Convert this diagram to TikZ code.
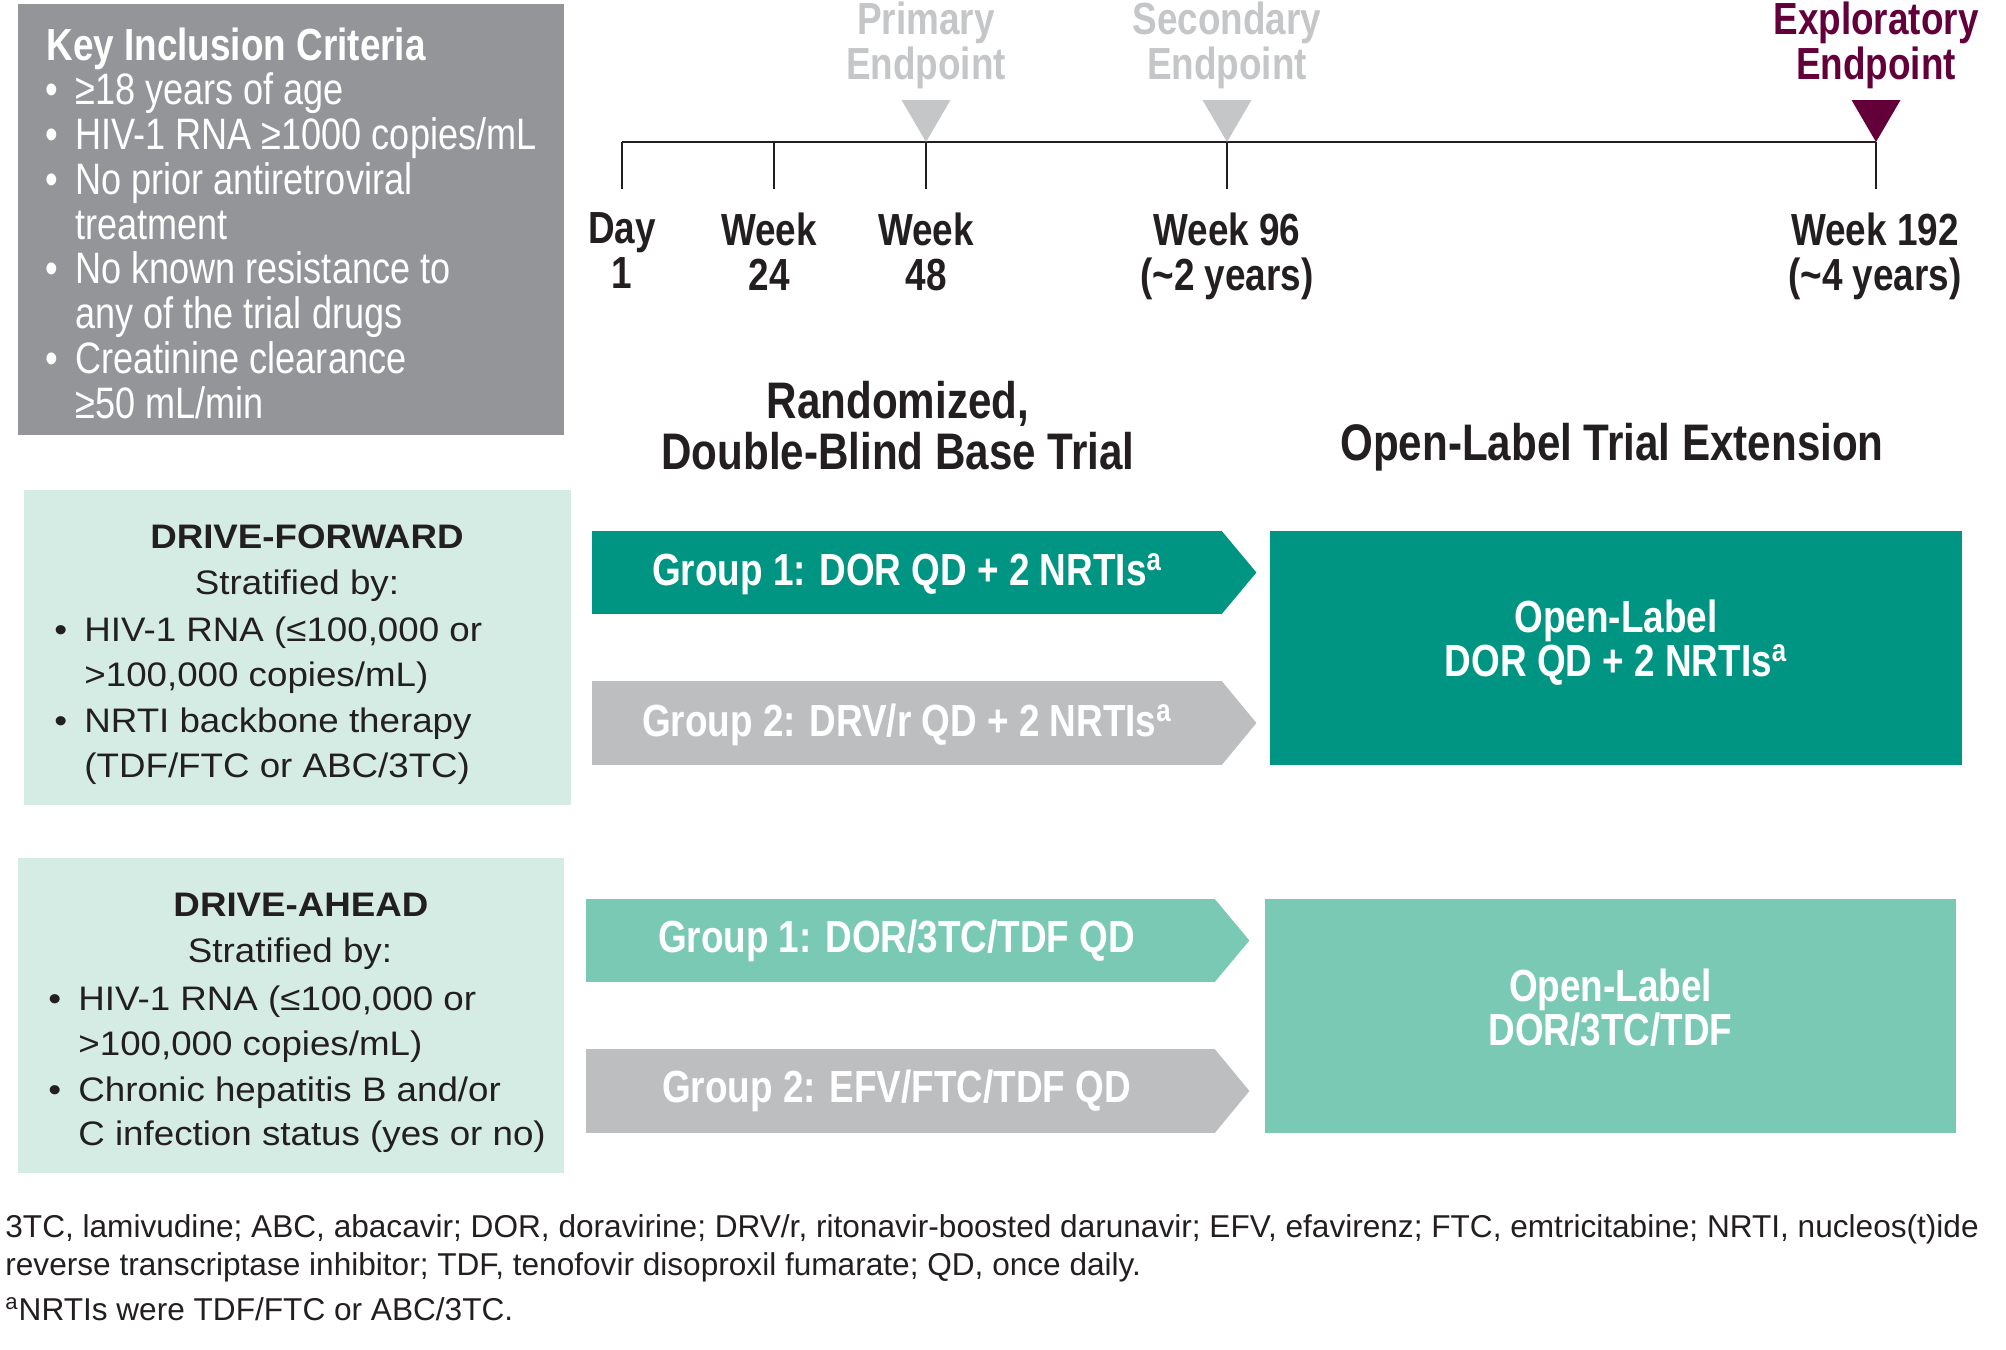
\documentclass[tikz,border=0pt]{standalone}
\usepackage{fontspec}
\setmainfont{Liberation Sans}
\newfontfamily\narrowsans{Liberation Sans}[FakeStretch=0.82]
\newfontfamily\widesans{Liberation Sans}[FakeStretch=1.08]
\usetikzlibrary{fit,positioning}

\definecolor{ink}{RGB}{35,31,32}
\definecolor{keygray}{RGB}{147,149,152}
\definecolor{paleteal}{RGB}{213,236,228}
\definecolor{darkteal}{RGB}{0,148,130}
\definecolor{lightteal}{RGB}{122,201,180}
\definecolor{armgray}{RGB}{188,190,192}
\definecolor{endgray}{RGB}{196,198,200}
\definecolor{plum}{RGB}{99,0,58}

\begin{document}
\begin{tikzpicture}[x=0.5pt,y=-0.5pt,
  every node/.style={inner sep=0pt,text=ink},
  panel/.style={fill=#1,inner sep=0pt},
  heading/.style={font={\narrowsans\bfseries\fontsize{25.7pt}{25.5pt}\selectfont},align=center},
  tick label/.style={font={\narrowsans\bfseries\fontsize{22.5pt}{22.5pt}\selectfont},align=center,anchor=north},
  bar label/.style={text=white,align=center,
    font={\narrowsans\bfseries\fontsize{22.5pt}{22pt}\selectfont}},
  keyline/.style={font={\narrowsans\fontsize{22pt}{22pt}\selectfont},text=white,anchor=base west},
  critline/.style={font={\widesans\fontsize{17pt}{23pt}\selectfont},anchor=base west},
  foot/.style={font={\fontsize{15.8pt}{19pt}\selectfont},anchor=base west},
  axis/.style={draw=ink,line width=1.35pt}]
\useasboundingbox (0,0) rectangle (2006,1349);

% key inclusion criteria
\node (keybox) [panel=keygray,fit={(18,4) (564,435)}] {};
\node (keytitle) [keyline,font={\narrowsans\bfseries\fontsize{22.5pt}{22pt}\selectfont}] at (46,60) {Key Inclusion Criteria};
\foreach \y [count=\i] in {104,149,194,283,373}
  \node (keydot\i) [keyline] at (45,\y) {\textbullet};
\foreach \y/\txt [count=\i] in {104/{≥18 years of age},149/{HIV-1 RNA ≥1000 copies/mL},
    194/{No prior antiretroviral},239/{treatment},283/{No known resistance to},
    328/{any of the trial drugs},373/{Creatinine clearance},418/{≥50 mL/min}}
  \node (key\i) [keyline] at (75,\y) {\txt};

% timeline with endpoints
\foreach \n/\x in {d1/622,w24/774,w48/926,w96/1227,w192/1876}
  \coordinate (\n) at (\x,142);
\draw[axis] (d1) -- (w192);
\foreach \n in {d1,w24,w48,w96,w192}
  \draw[axis] (\n) -- ++(0,47);
\foreach \n/\c in {w48/endgray,w96/endgray,w192/plum}
  \fill[\c] (\n) -- ++(-24.5,-42) -- ++(49,0) -- cycle;
\node (primary) [tick label,text=endgray] at (926,1) {Primary\\Endpoint};
\node (secondary) [tick label,text=endgray] at (1227,1) {Secondary\\Endpoint};
\node (exploratory) [tick label,text=plum] at (1876,1) {Exploratory\\Endpoint};

\node (lbd1) [tick label] at (622,212) {Day\\1};
\node (lbw24) [tick label] at (769,212) {Week\\24};
\node (lbw48) [tick label] at (926,212) {Week\\48};
\node (lbw96) [tick label] at (1227,212) {Week 96\\(\textasciitilde2 years)};
\node (lbw192) [tick label] at (1875,212) {Week 192\\(\textasciitilde4 years)};

% DRIVE-FORWARD
\node (fwdbox) [panel=paleteal,fit={(24,490) (571,805)}] {};
\node (fwdname) [critline,anchor=base,font={\widesans\bfseries\fontsize{17pt}{23pt}\selectfont}] at (307,548) {DRIVE-FORWARD};
\node (fwdstrat) [critline,anchor=base] at (297,594) {Stratified by:};
\foreach \y [count=\i] in {641,732}
  \node (fwddot\i) [critline] at (54,\y) {\textbullet};
\foreach \y/\txt [count=\i] in {641/{HIV-1 RNA (≤100,000 or},686/{>100,000 copies/mL)},
    732/{NRTI backbone therapy},777/{(TDF/FTC or ABC/3TC)}}
  \node (fwd\i) [critline] at (84,\y) {\txt};

\node (fwdA) [panel=darkteal,fit={(592,531) (1222,614)}] {};
\node (fwdB) [panel=armgray,fit={(592,681) (1222,765)}] {};
\node (olfwd) [panel=darkteal,fit={(1270,531) (1962,765)}] {};

% DRIVE-AHEAD
\node (aheadbox) [panel=paleteal,fit={(18,858) (564,1173)}] {};
\node (aheadname) [critline,anchor=base,font={\widesans\bfseries\fontsize{17pt}{23pt}\selectfont}] at (301,916) {DRIVE-AHEAD};
\node (aheadstrat) [critline,anchor=base] at (290,962) {Stratified by:};
\foreach \y [count=\i] in {1010,1101}
  \node (aheaddot\i) [critline] at (48,\y) {\textbullet};
\foreach \y/\txt [count=\i] in {1010/{HIV-1 RNA (≤100,000 or},1055/{>100,000 copies/mL)},
    1101/{Chronic hepatitis B and/or},1145/{C infection status (yes or no)}}
  \node (ahead\i) [critline] at (78,\y) {\txt};

\node (aheadA) [panel=lightteal,fit={(586,899) (1215,982)}] {};
\node (aheadB) [panel=armgray,fit={(586,1049) (1215,1133)}] {};
\node (olahead) [panel=lightteal,fit={(1265,899) (1956,1133)}] {};

% pointed ends of the group bars
\foreach \b/\c in {fwdA/darkteal,fwdB/armgray,aheadA/lightteal,aheadB/armgray}
  \fill[\c] ([xshift=-0.5pt]\b.north east) -- ([xshift=17pt]\b.east)
    -- ([xshift=-0.5pt]\b.south east) -- cycle;

% texts on the bars and boxes
\node (fwdAtxt) [bar label] at ([yshift=-1pt]fwdA.center) {Group 1: DOR QD + 2 NRTIs\textsuperscript{a}};
\node (fwdBtxt) [bar label] at ([yshift=-1pt]fwdB.center) {Group 2: DRV/r QD + 2 NRTIs\textsuperscript{a}};
\node (olfwdtxt) [bar label] at ([yshift=2.5pt]olfwd.center) {Open-Label\\DOR QD + 2 NRTIs\textsuperscript{a}};
\node (aheadAtxt) [bar label] at ([xshift=-2pt]aheadA.center) {Group 1: DOR/3TC/TDF QD};
\node (aheadBtxt) [bar label] at ([xshift=-2pt]aheadB.center) {Group 2: EFV/FTC/TDF QD};
\node (olaheadtxt) [bar label] at ([yshift=4pt]olahead.center) {Open-Label\\DOR/3TC/TDF};

% phase headings
\node (basetrial) [heading,above=30pt of fwdA,xshift=-4.5pt] {Randomized,\\Double-Blind Base Trial};
\node (extension) [heading,above=29.5pt of olfwd,xshift=-2pt] {Open-Label Trial Extension};

% abbreviations
\node (foot1) [foot] at (5,1237) {3TC, lamivudine; ABC, abacavir; DOR, doravirine; DRV/r, ritonavir-boosted darunavir; EFV, efavirenz; FTC, emtricitabine; NRTI, nucleos(t)ide};
\node (foot2) [foot] at (5,1275) {reverse transcriptase inhibitor; TDF, tenofovir disoproxil fumarate; QD, once daily.};
\node (foot3) [foot] at (5,1320) {\textsuperscript{a}NRTIs were TDF/FTC or ABC/3TC.};
\end{tikzpicture}
\end{document}
